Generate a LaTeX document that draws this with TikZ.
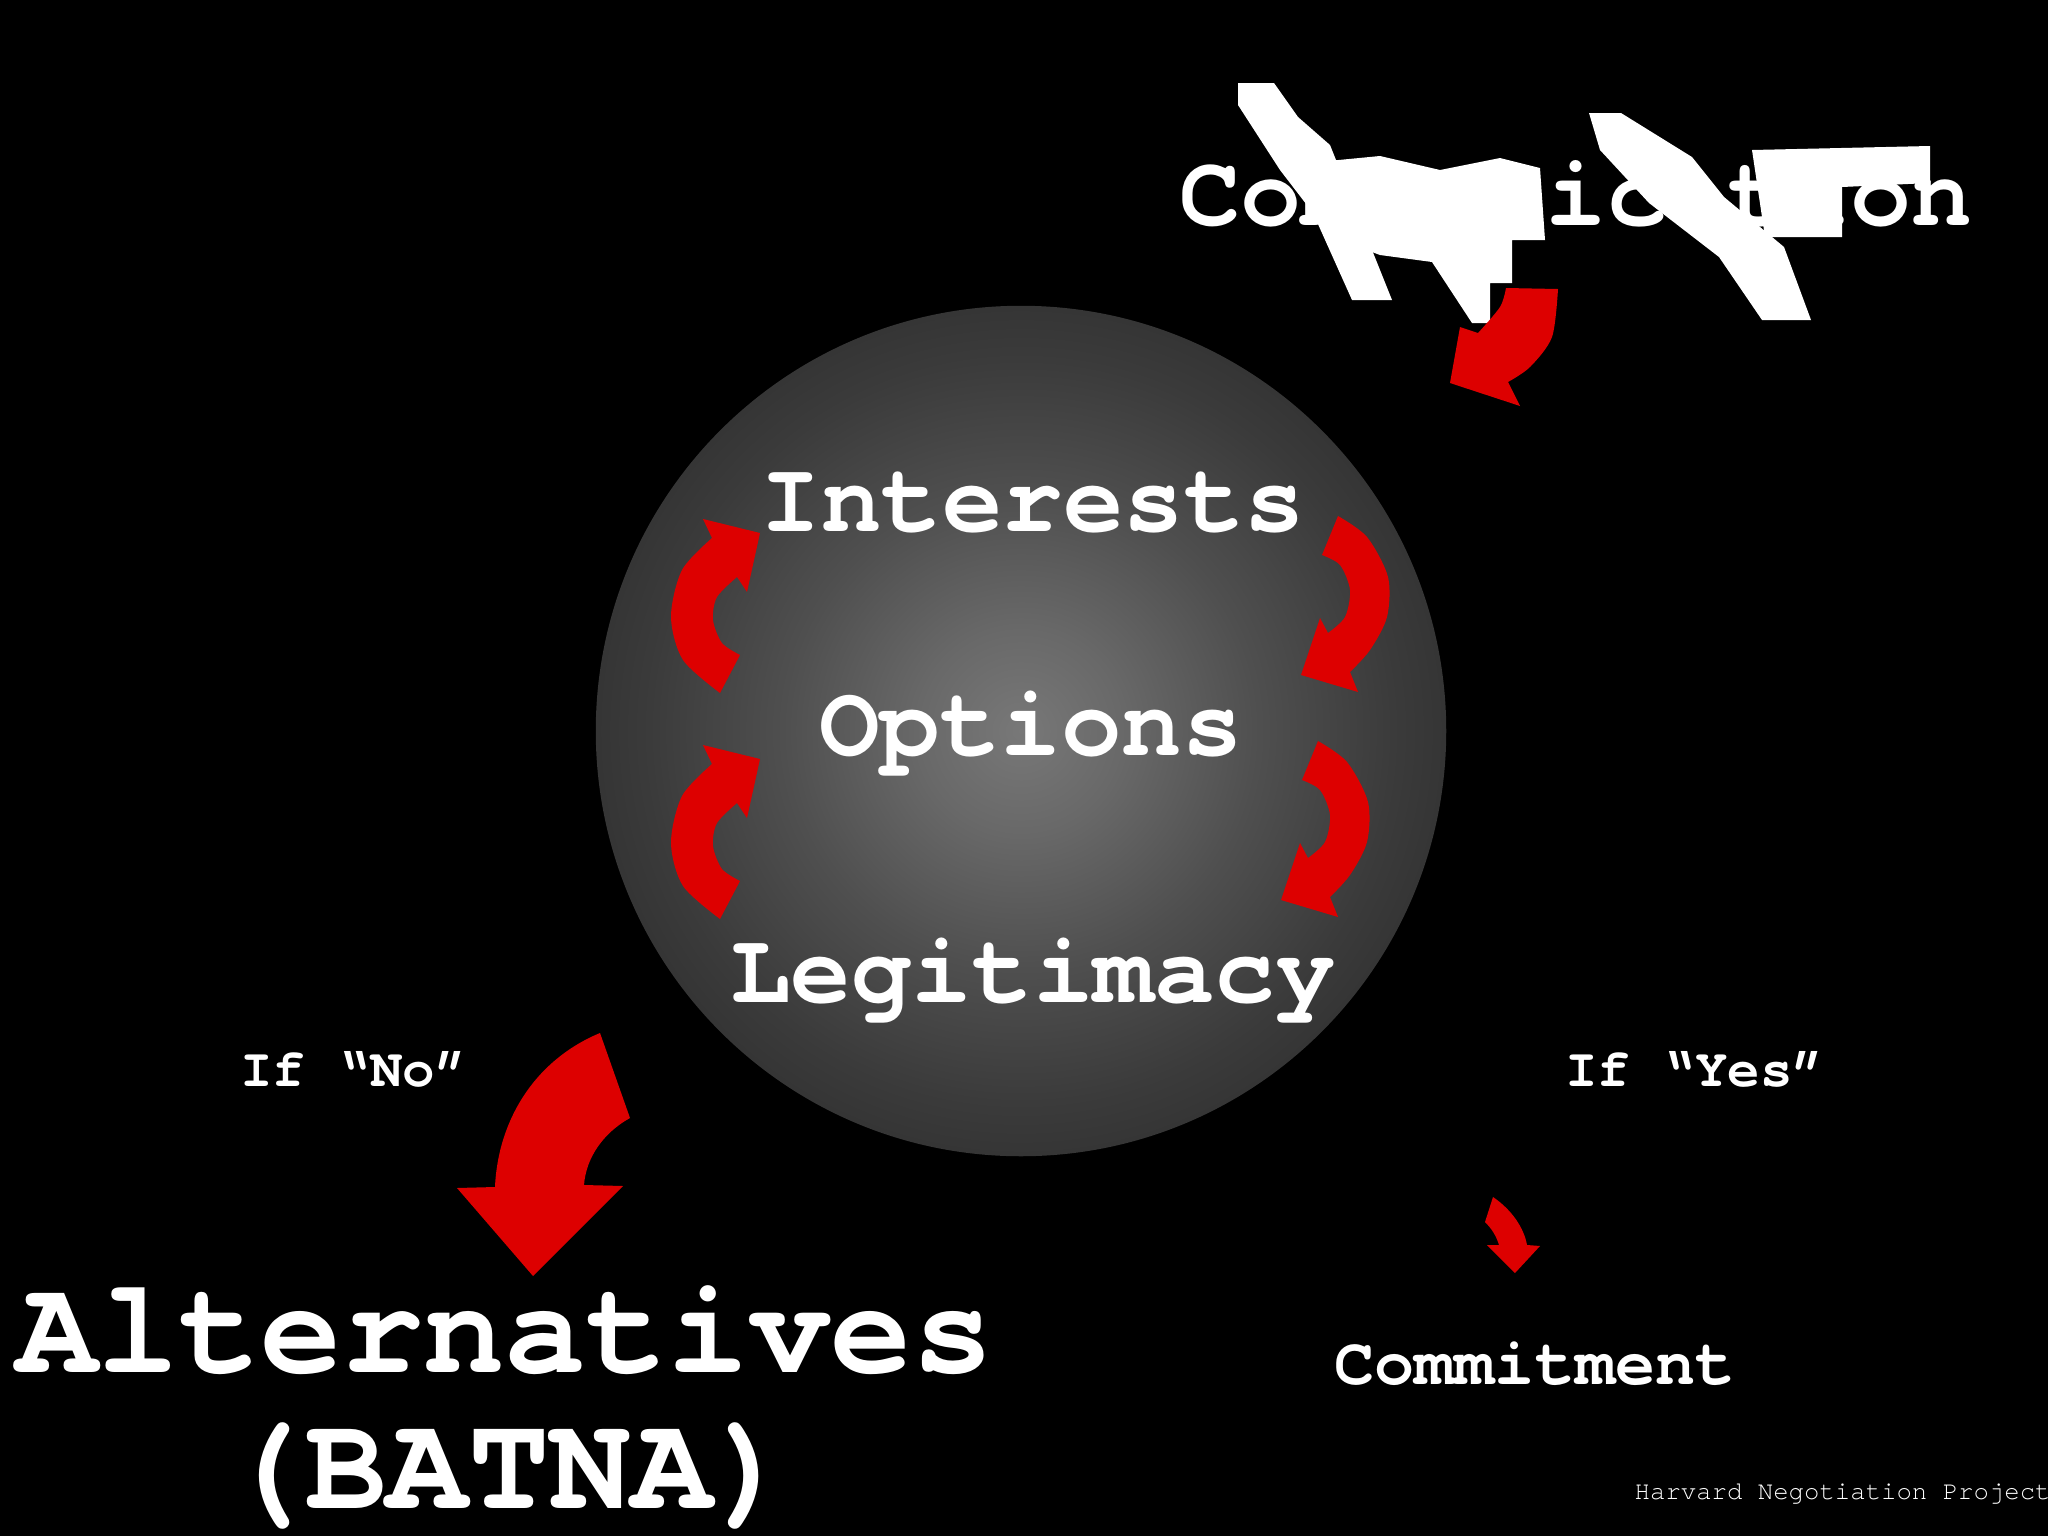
\documentclass[tikz,border=0pt]{standalone}
\usepackage{fontspec}
\newfontfamily\courier{TeX Gyre Cursor}
\definecolor{arrowred}{RGB}{221,0,0}
\pgfdeclareradialshading{glow}{\pgfpoint{0bp}{0bp}}{color(0bp)=(white!47!black); color(6bp)=(white!41!black); color(14bp)=(white!31!black); color(22bp)=(white!23!black); color(30bp)=(white!17!black); color(38bp)=(white!12!black); color(45bp)=(white!8!black); color(50bp)=(white!4!black); color(100bp)=(black)}
\tikzset{
  word/.style={text=white, inner sep=0pt, anchor=base, font=\courier\bfseries\fontsize{#1}{#1}\selectfont},
  thinword/.style={text=white, inner sep=0pt, anchor=base west, font=\courier\fontsize{#1}{#1}\selectfont},
  redarrow/.style={fill=arrowred},
  scribble/.style={fill=white}
}
\begin{document}
\begin{tikzpicture}[x=0.01cm,y=0.01cm]
\fill[black] (0,0) rectangle (2048,-1536);
\useasboundingbox (0,0) rectangle (2048,-1536);
\shade[shading=glow] (1021,-731) circle[radius=4.25cm];
\node[word=28.7] (interests) at (1033,-531) {Interests};
\node[word=28.7] (options) at (1031,-755) {Options};
\node[word=28.7] (legitimacy) at (1033,-1002) {Legitimacy};
\node[word=28.9] (communication) at (1576,-225) {Communication};
\node[word=15.4] (ifno) at (354,-1086) {If “No”};
\node[word=15.4] (ifyes) at (1695,-1086) {If “Yes”};
\node[word=38.6] (alternatives) at (505,-1372) {Alternatives};
\node[word=38.6] (batna) at (509,-1508) {(BATNA)};
\node[word=19] (commitment) at (1535,-1384) {Commitment};
\node[thinword=7.3] (credit) at (1634,-1499) {Harvard Negotiation Project};
\fill[scribble] (1238,-83) -- (1274,-83) -- (1298,-117) -- (1330,-145) -- (1392,-300) -- (1352,-300) -- (1313,-213) -- (1280,-170) -- (1238,-105) -- cycle;
\fill[scribble] (1318,-162) -- (1380,-156) -- (1440,-170) -- (1500,-158) -- (1540,-168) -- (1545,-240) -- (1512,-240) -- (1512,-283) -- (1490,-283) -- (1490,-323) -- (1472,-323) -- (1432,-262) -- (1380,-255) -- (1340,-240) -- cycle;
\fill[scribble] (1589,-113) -- (1621,-113) -- (1692,-157) -- (1724,-197) -- (1784,-247) -- (1811,-320) -- (1762,-320) -- (1719,-257) -- (1649,-203) -- (1600,-150) -- cycle;
\fill[scribble] (1752,-150) -- (1930,-146) -- (1930,-183) -- (1842,-187) -- (1842,-237) -- (1765,-237) -- cycle;
\fill[redarrow] (1506,-288) -- (1558,-289) -- plot[smooth] coordinates {(1558,-289) (1552,-337) (1530,-367) (1508,-382)} -- (1520,-406) -- (1450,-383) -- (1460,-327) -- (1478,-333) -- plot[smooth] coordinates {(1478,-333) (1500,-307) (1506,-288)} -- cycle;
\foreach \dy in {0,226}
  \fill[redarrow, shift={(0,-\dy)}] (720,-693) -- plot[smooth] coordinates {(720,-693) (683,-660) (671,-617) (682,-570) (712,-538)} -- (703,-519) -- (760,-533) -- (747,-592) -- (737,-577) -- plot[smooth] coordinates {(737,-577) (717,-597) (713,-620) (722,-643) (740,-655)} -- cycle;
\foreach \dx/\dy in {0/0,-20/225}
  \fill[redarrow, shift={(\dx,-\dy)}] (1338,-516) -- plot[smooth] coordinates {(1338,-516) (1367,-537) (1388,-577) (1387,-617) (1370,-650) (1350,-672)} -- (1358,-692) -- (1301,-675) -- (1320,-618) -- (1328,-633) -- plot[smooth] coordinates {(1328,-633) (1345,-617) (1350,-590) (1340,-565) (1322,-555)} -- cycle;
\fill[redarrow] (600,-1033) -- (630,-1118) .. controls (603,-1133) and (586,-1158) .. (584,-1185) -- (623,-1186) -- (533,-1276) -- (457,-1188) -- (495,-1187) .. controls (498,-1120) and (535,-1060) .. (600,-1033) -- cycle;
\fill[redarrow] (1493,-1197) .. controls (1512,-1210) and (1524,-1228) .. (1527,-1245) -- (1540,-1246) -- (1515,-1273) -- (1487,-1245) -- (1499,-1245) .. controls (1496,-1235) and (1491,-1228) .. (1485,-1222) -- cycle;
\end{tikzpicture}
\end{document}
